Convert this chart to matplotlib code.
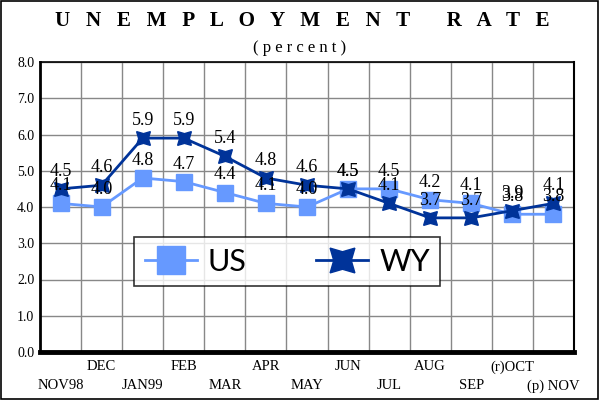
import matplotlib
matplotlib.use("Agg")
import matplotlib.pyplot as plt
from matplotlib.patches import Rectangle

months = ["NOV98", "DEC", "JAN99", "FEB", "MAR", "APR", "MAY", "JUN",
          "JUL", "AUG", "SEP", "(r)OCT", "(p) NOV"]
us = [4.1, 4.0, 4.8, 4.7, 4.4, 4.1, 4.0, 4.5, 4.5, 4.2, 4.1, 3.8, 3.8]
wy = [4.5, 4.6, 5.9, 5.9, 5.4, 4.8, 4.6, 4.5, 4.1, 3.7, 3.7, 3.9, 4.1]
yticks = [0, 1, 2, 3, 4, 5, 6, 7, 8]

us_color = "#6699FF"
wy_color = "#003399"
serif = ["Liberation Serif", "DejaVu Serif"]

fig = plt.figure(figsize=(6, 4), dpi=100)
fig.patch.set_facecolor("white")
fig.add_artist(Rectangle((0.001, 0.002), 0.996, 0.995, transform=fig.transFigure,
                         fill=False, edgecolor="black", linewidth=1.2))

ax = fig.add_axes([40/600, 48/400, 534/600, 290/400])
x = list(range(len(months)))

ax.plot(x, us, color=us_color, lw=2, marker="s", ms=11, mfc=us_color,
        mec=us_color, label="US", zorder=3)
ax.plot(x, wy, color=wy_color, lw=2, marker=(4, 1, 45), ms=14, mfc=wy_color,
        mec=wy_color, label="WY", zorder=4)

for xi, v in zip(x, us):
    ax.annotate(f"{v:.1f}", (xi, v), xytext=(0, 6.5), textcoords="offset points",
                ha="center", va="bottom", fontsize=13, family=serif, zorder=5)
for xi, v in zip(x, wy):
    ax.annotate(f"{v:.1f}", (xi, v), xytext=(0, 6.5), textcoords="offset points",
                ha="center", va="bottom", fontsize=13, family=serif, zorder=5)

ax.set_xlim(-0.5, len(months) - 0.5)
ax.set_ylim(0, 8)
ax.set_yticks(yticks)
ax.set_yticklabels([f"{t:.1f}" for t in yticks], family=serif, fontsize=10)
ax.set_xticks(x)
ax.set_xticklabels([("\n" + m) if i % 2 == 0 else m for i, m in enumerate(months)],
                   family=serif, fontsize=10.5, linespacing=1.6)
ax.set_xticks([i + 0.5 for i in x[:-1]], minor=True)
ax.tick_params(axis="x", which="major", length=0, pad=6)
ax.tick_params(axis="x", which="minor", length=0)
ax.tick_params(axis="y", length=0, pad=4)
ax.grid(True, which="minor", axis="x", color="#888888", lw=1)
ax.grid(True, which="major", axis="y", color="#888888", lw=1)
ax.set_axisbelow(True)

ax.spines["left"].set_linewidth(2)
ax.spines["bottom"].set_linewidth(3.5)
ax.spines["top"].set_linewidth(1.2)
ax.spines["right"].set_linewidth(1.5)

leg = ax.legend(loc="upper left", bbox_to_anchor=(94/534, (352-237)/290),
                ncol=2, frameon=True, fancybox=False, edgecolor="black",
                prop={"family": ["Lato", "DejaVu Sans"], "size": 22},
                handlelength=1.7, columnspacing=2.3, borderpad=0.35,
                handletextpad=0.35, borderaxespad=0, markerscale=1.8)
leg.get_frame().set_linewidth(1.2)

fig.text(0.503, 0.948, "U   N   E   M   P   L   O   Y   M   E   N   T       R   A   T   E",
         ha="center", va="center", family=serif, fontsize=15.2, weight="bold")
fig.text(0.5, 0.88, "( p e r c e n t )", ha="center", va="center",
         family=serif, fontsize=12)

fig.savefig("out.png", dpi=100)
